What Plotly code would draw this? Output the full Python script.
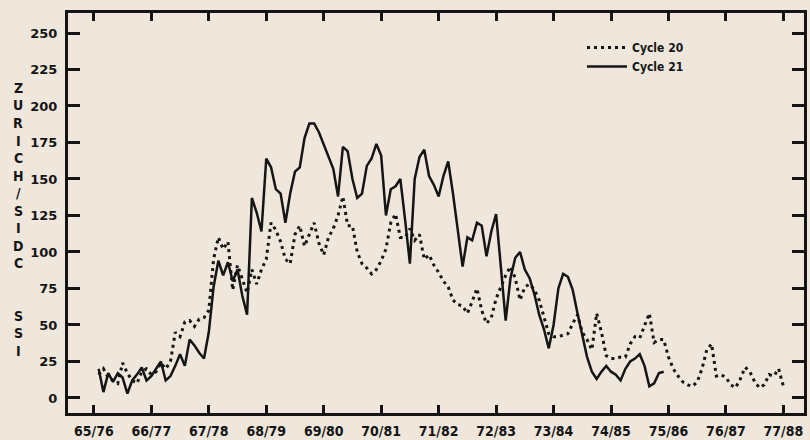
import plotly.graph_objects as go

# Year labels (cycle 20 year / cycle 21 year)
year_labels = ["65/76", "66/77", "67/78", "68/79", "69/80", "70/81", "71/82",
               "72/83", "73/84", "74/85", "75/86", "76/87", "77/88"]
tick_months = [12 * i for i in range(len(year_labels))]

# Monthly Zurich/SIDC sunspot index
cycle20 = [16, 20, 14, 12, 10, 24, 17, 12, 10, 18, 20, 16,
           18, 24, 20, 25, 45, 42, 52, 53, 49, 54, 55, 60,
           95, 110, 102, 107, 74, 91, 82, 72, 88, 78, 88, 95,
           120, 115, 107, 95, 92, 112, 118, 104, 112, 120, 106, 98,
           110, 116, 125, 138, 118, 118, 100, 92, 89, 85, 88, 94,
           102, 120, 126, 110, 110, 116, 108, 112, 95, 98, 91, 86,
           80, 76, 67, 64, 63, 58, 66, 75, 60, 51, 55, 68,
           76, 84, 90, 82, 67, 76, 78, 74, 67, 55, 44, 42,
           42, 43, 44, 51, 57, 45, 40, 33, 58, 45, 29, 27,
           27, 28, 28, 37, 42, 41, 50, 58, 38, 40, 40, 28,
           20, 15, 11, 9, 8, 11, 20, 33, 37, 15, 16, 14,
           9, 7, 13, 21, 18, 11, 7, 9, 16, 15, 20, 8]

cycle21 = [20, 4, 17, 11, 17, 14, 3, 12, 16, 21, 12, 15,
           20, 25, 12, 15, 22, 30, 22, 40, 36, 31, 27, 45,
           76, 94, 84, 93, 80, 88, 70, 57, 137, 127, 114, 164,
           158, 143, 140, 120, 140, 155, 158, 178, 188, 188, 182, 174,
           165, 157, 138, 172, 169, 150, 137, 140, 159, 164, 174, 166,
           125, 143, 145, 150, 122, 92, 150, 165, 170, 152, 146, 138,
           152, 162, 140, 113, 90, 110, 108, 120, 118, 97, 114, 126,
           90, 53, 82, 96, 100, 88, 82, 71, 57, 47, 34, 50,
           75, 85, 83, 74, 58, 42, 28, 18, 13, 18, 22, 18,
           16, 12, 20, 25, 27, 30, 22, 8, 10, 17, 18]

months20 = list(range(1, len(cycle20) + 1))
months21 = list(range(1, len(cycle21) + 1))

ytitle_letters = ["Z", "U", "R", "I", "C", "H", "/", "S", "I", "D", "C",
                  "", "", "S", "S", "I"]

BG = "#efe7dc"
INK = "#151515"
COND = "DejaVu Sans Condensed, DejaVu Sans, Liberation Sans, sans-serif"

fig = go.Figure()
fig.add_trace(go.Scatter(x=months20, y=cycle20, mode="lines", name="Cycle 20",
                         line=dict(color=INK, width=3, dash="3px,4px")))
fig.add_trace(go.Scatter(x=months21, y=cycle21, mode="lines", name="Cycle 21",
                         line=dict(color=INK, width=2.5)))

W, H = 810, 440
ML, MR, MT, MB = 68, 6, 13, 27
pw, ph = W - ML - MR, H - MT - MB

# stacked vertical axis title
for i, ch in enumerate(ytitle_letters):
    if not ch:
        continue
    py = 88 + i * 17.5
    fig.add_annotation(text=ch, xref="paper", yref="paper",
                       x=(18 - ML) / pw, y=(H - MB - py) / ph,
                       xanchor="center", yanchor="middle", showarrow=False,
                       font=dict(family=COND, size=14, color=INK, weight="bold"))

fig.update_layout(
    template="none",
    width=W, height=H,
    margin=dict(l=ML, r=MR, t=MT, b=MB, pad=0),
    paper_bgcolor=BG, plot_bgcolor=BG,
    showlegend=True,
    legend=dict(x=(582 - ML) / pw, y=(H - MB - 33) / ph, xanchor="left", yanchor="top",
                bgcolor="rgba(0,0,0,0)", borderwidth=0,
                font=dict(family=COND, size=12, color=INK, weight="bold"),
                itemwidth=40, tracegroupgap=0),
    xaxis=dict(range=[-5.4, 148.3], tickvals=tick_months, ticktext=year_labels,
               automargin=False,
               showgrid=False, zeroline=False, showline=True, linewidth=3,
               linecolor=INK, mirror="ticks", ticks="inside", ticklen=8,
               tickwidth=2.5, tickcolor=INK, ticklabelstandoff=3,
               tickfont=dict(family=COND, size=14, color=INK, weight="bold")),
    yaxis=dict(range=[-10.3, 263.7], tickvals=list(range(0, 251, 25)),
               automargin=False,
               showgrid=False, zeroline=False, showline=True, linewidth=3,
               linecolor=INK, mirror="ticks", ticks="inside", ticklen=12,
               tickwidth=2.5, tickcolor=INK, ticklabelstandoff=5,
               tickfont=dict(family="DejaVu Sans", size=13, color=INK,
                             weight="bold")),
)

page_fix = ("document.body.style.margin='0';document.body.style.padding='0';"
            "document.body.style.overflow='hidden';"
            "document.body.style.background='" + BG + "';")
fig.write_html("out.html", post_script=page_fix,
               config={"displayModeBar": False})
